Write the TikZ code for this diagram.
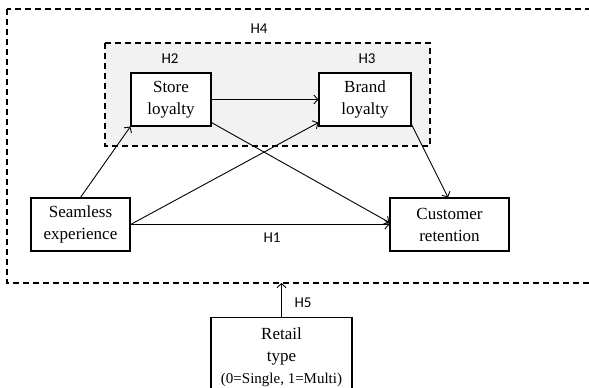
\documentclass[tikz,border=0pt]{standalone}
\usepackage{fontspec}
\setmainfont{Liberation Serif}
\newfontfamily\hfont{Carlito}
\usetikzlibrary{arrows.meta}
\begin{document}
\begin{tikzpicture}[x=1pt,y=-1pt,
  box/.style={draw,line width=1.2pt,fill=white,inner sep=0pt,align=center,
    font=\fontsize{17}{22}\selectfont},
  hlab/.style={font=\hfont\fontsize{15}{17}\selectfont,inner sep=0pt},
  arr/.style={line width=0.9pt,-{Straight Barb[length=4pt,width=9pt]}},
  dashbox/.style={draw,line width=1.4pt,dash pattern=on 6pt off 4pt}]
\useasboundingbox (0,0) rectangle (589,388);
\fill[white] (0,0) rectangle (589,388);
% outer and inner dashed frames
\draw[dashbox] (7,9) rectangle (600,283);
\draw[dashbox,fill=black!5] (105,43) rectangle (430,146);
% boxes
\node[box,minimum width=80pt,minimum height=53pt] (store) at (171,99.5) {Store\\loyalty};
\node[box,minimum width=92pt,minimum height=53pt] (brand) at (365,99.5) {Brand\\loyalty};
\node[box,minimum width=99pt,minimum height=53pt] (seam) at (80.5,224.5) {Seamless\\experience};
\node[box,minimum width=119pt,minimum height=53pt] (cust) at (449.5,224.5) {Customer\\retention};
\node[box,minimum width=141pt,minimum height=80pt,anchor=north] (retail) at (281.5,317)
  {Retail\\type\\{\fontsize{15}{20}\selectfont(0=Single, 1=Multi)}};
\coordinate (mod) at (281.5,283);
% labels
\node[hlab] (h4) at (259,29) {H4};
\node[hlab] (h2) at (170,59) {H2};
\node[hlab] (h3) at (367,59) {H3};
\node[hlab] (h1) at (272,238) {H1};
\node[hlab] (h5) at (303,303) {H5};
% arrows
\draw[arr] (seam.north) -- (store.south west);
\draw[arr] (seam.east) -- ([yshift=4pt]brand.south west);
\draw[arr] (store.east) -- (brand.west);
\draw[arr] ([yshift=4pt]store.south east) -- ([yshift=2pt]cust.west);
\draw[arr] (seam.east) -- (cust.west);
\draw[arr] ([yshift=2pt]brand.south east) -- ([xshift=-1.5pt]cust.north);
\draw[arr] (retail.north) -- (mod);
\end{tikzpicture}
\end{document}
